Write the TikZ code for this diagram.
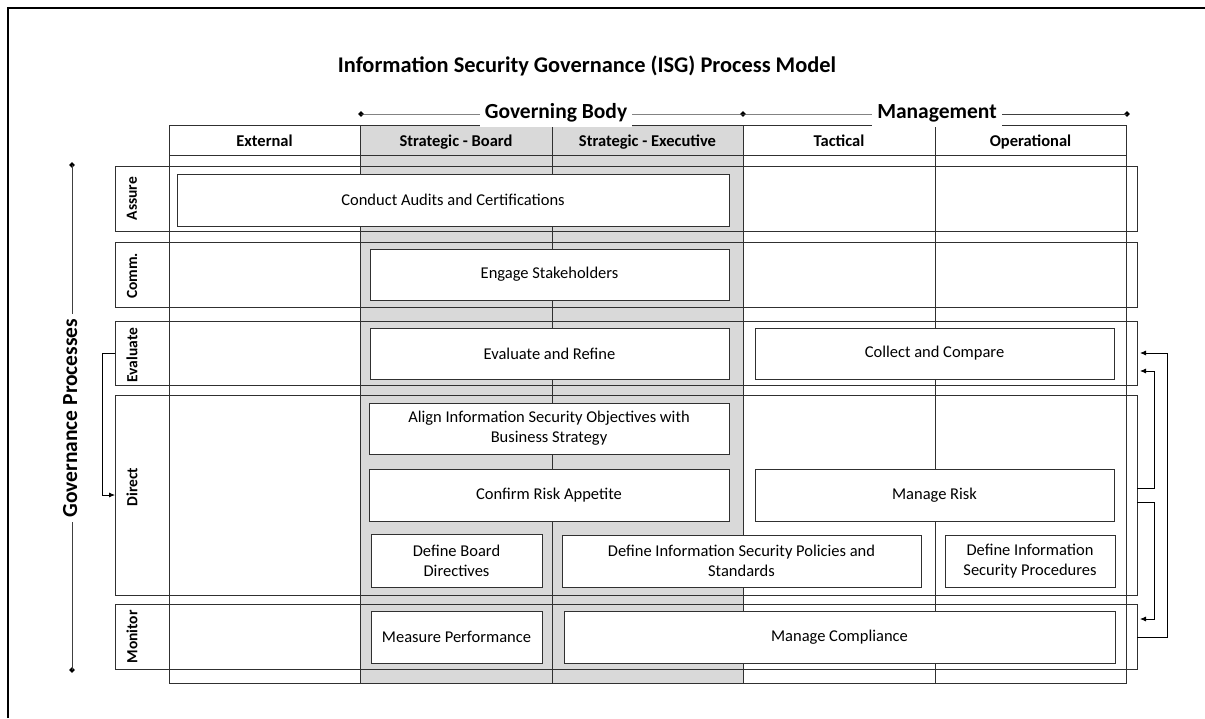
\documentclass[tikz,border=0pt]{standalone}
\usepackage{fontspec}
\setmainfont{Carlito}
\usetikzlibrary{arrows.meta,shapes.geometric}
\definecolor{colshade}{HTML}{D9D9D9}
\definecolor{ln}{HTML}{303030}
\begin{document}
\begin{tikzpicture}[x=1pt,y=-1pt,
  pbox/.style={draw=ln, line width=1pt, fill=white, rectangle, inner sep=2pt, align=center, font=\fontsize{16.5}{20}\selectfont},
  rowbox/.style={draw=ln, line width=1pt, rectangle, inner sep=0pt, outer sep=0pt},
  rowlab/.style={rotate=90, font=\bfseries\fontsize{15.5}{18}\selectfont},
  colhead/.style={anchor=base, font=\bfseries\fontsize{16.5}{18}\selectfont},
  grp/.style={anchor=base, font=\bfseries\fontsize{21.5}{24}\selectfont, fill=white, inner sep=5pt},
  arr/.style={line width=0.8pt, -{Latex[length=6pt,width=5pt]}},
  brk/.style={line width=0.6pt, draw=black!75},
  dotmark/.style={diamond, fill=black, inner sep=0pt, minimum size=6pt}
]
\useasboundingbox (0,0) rectangle (1205,718);
% outer frame
\draw[line width=2.5pt] (8,718) -- (8,8) -- (1205,8);
% title
\node[anchor=base, font=\bfseries\fontsize{22.4}{26}\selectfont] (title) at (587,72) {Information Security Governance (ISG) Process Model};
% columns
\fill[colshade] (360,125) rectangle (743,683);
\draw[ln, line width=1pt] (169,125) rectangle (1126,683);
\draw[ln, line width=1pt] (169,155) -- (1126,155);
\foreach \cx in {360,552,743,935} \draw[ln, line width=1pt] (\cx,125) -- (\cx,683);
\node[colhead] (hext) at (264.5,146.5) {External};
\node[colhead] (hboard) at (456,146.5) {Strategic - Board};
\node[colhead] (hexec) at (647.5,146.5) {Strategic - Executive};
\node[colhead] (htac) at (839,146.5) {Tactical};
\node[colhead] (hop) at (1030.5,146.5) {Operational};
% group brackets
\node[dotmark] (gb1) at (361,114) {};
\node[dotmark] (gb2) at (743,114) {};
\node[dotmark] (mg2) at (1127,114) {};
\draw[brk] (gb1.center) -- (gb2.center) -- (mg2.center);
\node[grp] (gbody) at (556,118.5) {Governing Body};
\node[grp] (mgmt) at (937,118.5) {Management};
% governance processes
\node[dotmark] (gp1) at (72,165) {};
\node[dotmark] (gp2) at (72,670) {};
\draw[brk] (gp1.center) -- (gp2.center);
\node[grp, rotate=90] (gproc) at (77,418) {Governance Processes};
% rows
\node[rowbox, minimum width=1022pt, minimum height=65pt] (assure) at (626,198.5) {};
\node[rowbox, minimum width=1022pt, minimum height=65pt] (comm) at (626,274.5) {};
\node[rowbox, minimum width=1022pt, minimum height=64pt] (evaluate) at (626,353) {};
\node[rowbox, minimum width=1022pt, minimum height=200pt] (direct) at (626,495) {};
\node[rowbox, minimum width=1022pt, minimum height=65pt] (monitor) at (626,636.5) {};
\node[rowlab] (lassure) at (132,198.5) {Assure};
\node[rowlab] (lcomm) at (132,276) {Comm.};
\node[rowlab] (leval) at (132,355) {Evaluate};
\node[rowlab] (ldirect) at (132,487) {Direct};
\node[rowlab] (lmon) at (132,637) {Monitor};
% process boxes
\node[pbox, minimum width=552pt, minimum height=52pt] (audit) at (453,200) {Conduct Audits and Certifications};
\node[pbox, minimum width=359pt, minimum height=51pt] (engage) at (549.5,274.5) {Engage Stakeholders};
\node[pbox, minimum width=359pt, minimum height=51pt] (evalref) at (549.5,353.5) {Evaluate and Refine};
\node[pbox, minimum width=359pt, minimum height=51pt] (collect) at (934.5,353.5) {Collect and Compare};
\node[pbox, minimum width=360pt, minimum height=51pt] (align) at (549,428.5) {Align Information Security Objectives with\\Business Strategy};
\node[pbox, minimum width=360pt, minimum height=52pt] (confirm) at (549,495) {Confirm Risk Appetite};
\node[pbox, minimum width=359pt, minimum height=52pt] (manrisk) at (934.5,495) {Manage Risk};
\node[pbox, minimum width=171pt, minimum height=53pt] (board) at (456.5,560.5) {Define Board\\Directives};
\node[pbox, minimum width=359pt, minimum height=52pt] (policies) at (741.5,561) {Define Information Security Policies and\\Standards};
\node[pbox, minimum width=170pt, minimum height=52pt] (procs) at (1030,561) {Define Information\\Security Procedures};
\node[pbox, minimum width=171pt, minimum height=52pt] (measure) at (456.5,637) {Measure Performance};
\node[pbox, minimum width=551pt, minimum height=52pt] (compliance) at (839.5,637) {Manage Compliance};
% arrows
\draw[arr] (evaluate.west) -- ++(-13,0) |- (direct.west);
\draw[arr, shorten >=3pt] ([yshift=7pt]direct.east) -- ++(17,0) |- ([yshift=-18pt]evaluate.east);
\draw[arr, shorten >=3pt] ([yshift=-7pt]direct.east) -- ++(17,0) |- ([yshift=17.5pt]monitor.east);
\draw[arr, shorten >=3pt] ([yshift=-0.5pt]monitor.east) -- ++(30,0) |- (evaluate.east);
\end{tikzpicture}
\end{document}
